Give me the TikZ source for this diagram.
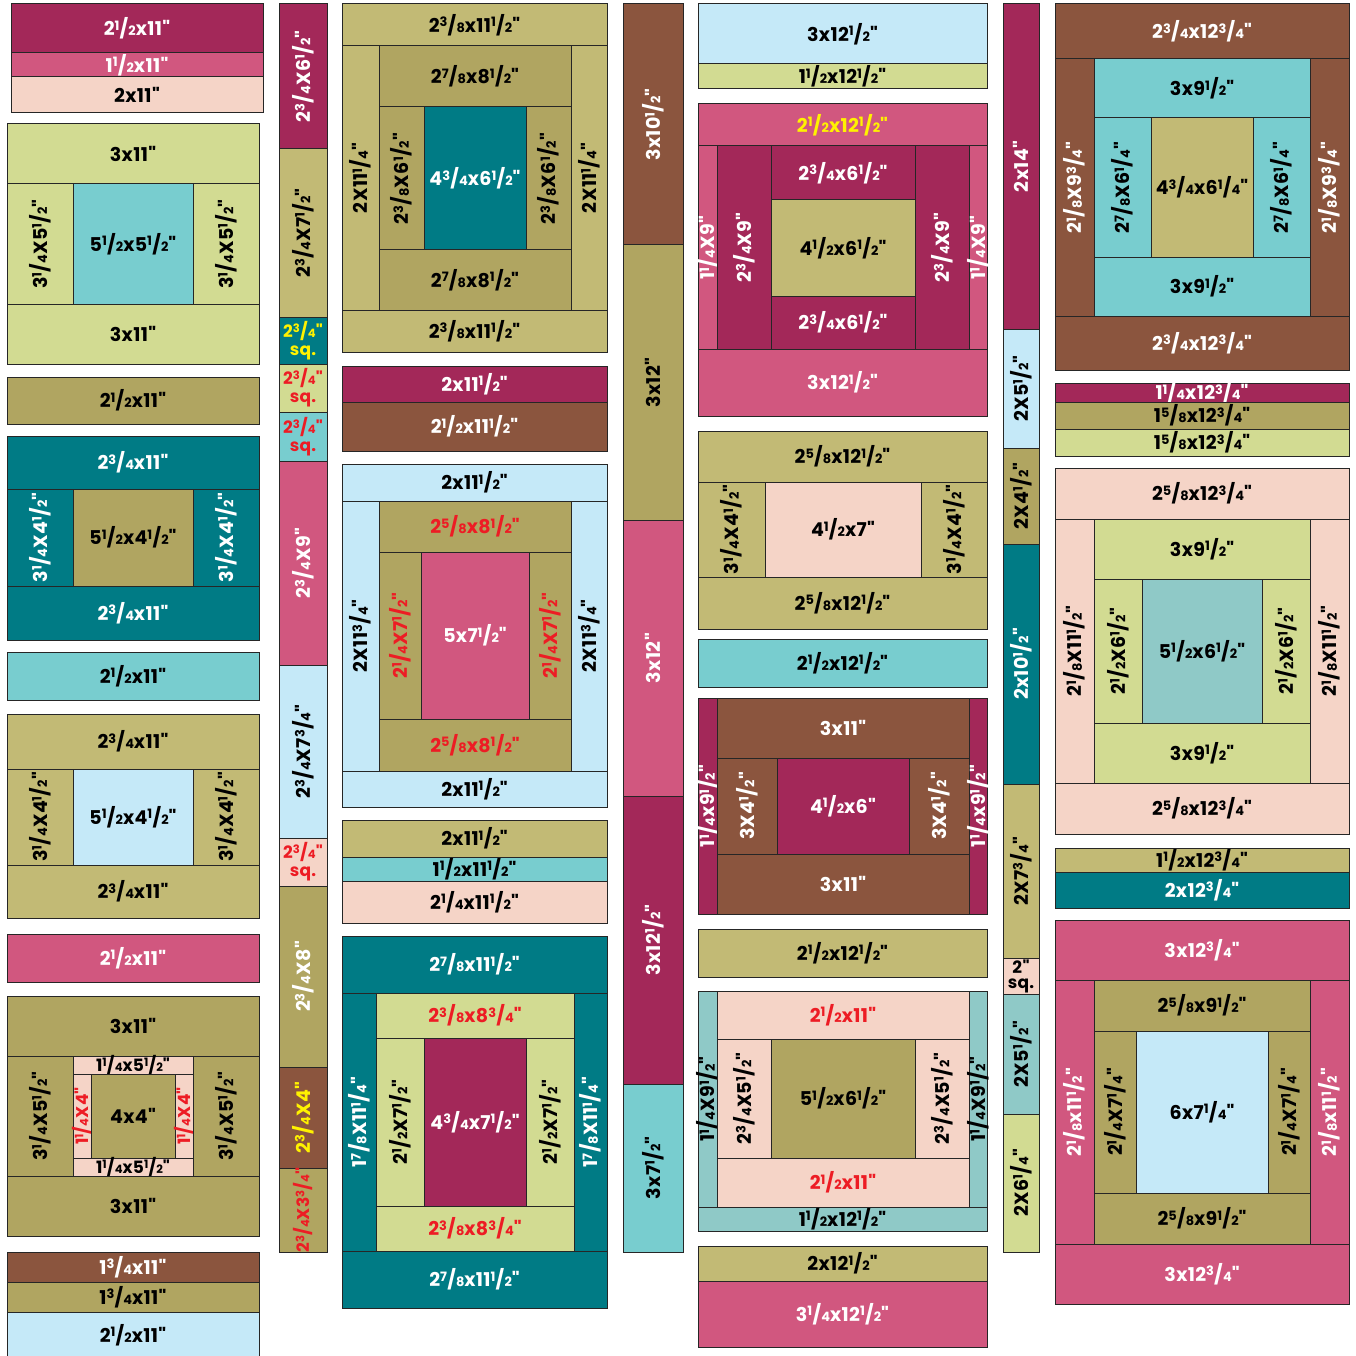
\documentclass[tikz,border=0pt]{standalone}
\usepackage{fontspec}
\usepackage{graphicx}
\usepackage{tikz}
\setmainfont{Poppins}[Ligatures=TeXOff, LetterSpace=2]
\definecolor{plum}{RGB}{163,40,89}
\definecolor{pink}{RGB}{209,87,127}
\definecolor{peach}{RGB}{245,212,199}
\definecolor{lgreen}{RGB}{210,219,146}
\definecolor{aqua}{RGB}{120,205,207}
\definecolor{olive}{RGB}{176,165,97}
\definecolor{khaki}{RGB}{194,186,117}
\definecolor{teal}{RGB}{0,123,133}
\definecolor{lblue}{RGB}{197,233,248}
\definecolor{brown}{RGB}{139,85,62}
\definecolor{seafoam}{RGB}{143,201,199}
\definecolor{cutred}{RGB}{237,28,36}
\definecolor{cutyellow}{RGB}{255,242,0}

% fraction: small numerator, slash, small denominator
\newcommand{\fr}[2]{\raisebox{0.3em}{\scalebox{0.68}{#1}}\kern0.01em/\kern0.01em\scalebox{0.68}{#2}}
\newcounter{pcn}
% piece: [label options] x1 y1 x2 y2 fill label
\newcommand{\pc}[7][]{%
  \stepcounter{pcn}%
  \filldraw[piece, fill=#6] (#2,#3) rectangle (#4,#5);
  \node[lbl,#1] (p\arabic{pcn}) at ({(#2+#4)/2},{(#3+#5)/2}) {#7};}

\tikzset{
  piece/.style={draw=black!85, line width=1pt},
  lbl/.style={font=\fontsize{19}{16}\selectfont\bfseries, inner sep=0pt, align=center},
  sqr/.style={font=\fontsize{17}{18}\selectfont\bfseries},
  small/.style={font=\fontsize{17}{16}\selectfont\bfseries},
  vt/.style={rotate=90},
  tw/.style={text=white},
  tr/.style={text=cutred},
  ty/.style={text=cutyellow}
}

\begin{document}
\begin{tikzpicture}[x=1pt, y=-1pt]
\useasboundingbox (0,0) rectangle (1355,1356);

% --- Column A ---
\pc[tw]{11}{4}{263}{53}{plum}{2\fr12x11"}
\pc[tw]{11}{53}{263}{77}{pink}{1\fr12x11"}
\pc{11}{77}{263}{113}{peach}{2x11"}
% light green block
\pc{7}{124}{259}{184}{lgreen}{3x11"}
\pc[vt]{7}{184}{73}{304}{lgreen}{3\fr14X5\fr12"}
\pc{73}{184}{193}{304}{aqua}{5\fr12x5\fr12"}
\pc[vt]{193}{184}{259}{304}{lgreen}{3\fr14X5\fr12"}
\pc{7}{304}{259}{364}{lgreen}{3x11"}
\pc{7}{377}{259}{424}{olive}{2\fr12x11"}
% teal block
\pc[tw]{7}{436}{259}{489}{teal}{2\fr34x11"}
\pc[tw,vt]{7}{489}{73}{586}{teal}{3\fr14X4\fr12"}
\pc{73}{489}{193}{586}{olive}{5\fr12x4\fr12"}
\pc[tw,vt]{193}{489}{259}{586}{teal}{3\fr14X4\fr12"}
\pc[tw]{7}{586}{259}{640}{teal}{2\fr34x11"}
\pc{7}{652}{259}{700}{aqua}{2\fr12x11"}
% khaki block
\pc{7}{714}{259}{769}{khaki}{2\fr34x11"}
\pc[vt]{7}{769}{73}{865}{khaki}{3\fr14X4\fr12"}
\pc{73}{769}{193}{865}{lblue}{5\fr12x4\fr12"}
\pc[vt]{193}{769}{259}{865}{khaki}{3\fr14X4\fr12"}
\pc{7}{865}{259}{918}{khaki}{2\fr34x11"}
\pc[tw]{7}{934}{259}{982}{pink}{2\fr12x11"}
% olive block
\pc{7}{996}{259}{1056}{olive}{3x11"}
\pc[vt]{7}{1056}{73}{1176}{olive}{3\fr14X5\fr12"}
\pc[small]{73}{1056}{193}{1074}{peach}{1\fr14x5\fr12"}
\pc[tr,vt,small]{73}{1074}{91}{1158}{peach}{1\fr14X4"}
\pc{91}{1074}{175}{1158}{olive}{4x4"}
\pc[tr,vt,small]{175}{1074}{193}{1158}{peach}{1\fr14X4"}
\pc[small]{73}{1158}{193}{1176}{peach}{1\fr14x5\fr12"}
\pc[vt]{193}{1056}{259}{1176}{olive}{3\fr14X5\fr12"}
\pc{7}{1176}{259}{1236}{olive}{3x11"}
\pc[tw]{7}{1252}{259}{1282}{brown}{1\fr34x11"}
\pc{7}{1282}{259}{1312}{olive}{1\fr34x11"}
\pc{7}{1312}{259}{1358}{lblue}{2\fr12x11"}

% --- Column B ---
\pc[tw,vt]{279}{4}{327}{149}{plum}{2\fr34X6\fr12"}
\pc[vt]{279}{149}{327}{317}{khaki}{2\fr34X7\fr12"}
\pc[ty,sqr]{279}{317}{327}{364}{teal}{2\fr34"\\sq.}
\pc[tr,sqr]{279}{364}{327}{412}{lgreen}{2\fr34"\\sq.}
\pc[tr,sqr]{279}{412}{327}{461}{aqua}{2\fr34"\\sq.}
\pc[tw,vt]{279}{461}{327}{665}{pink}{2\fr34X9"}
\pc[vt]{279}{665}{327}{838}{lblue}{2\fr34X7\fr34"}
\pc[tr,sqr]{279}{838}{327}{886}{peach}{2\fr34"\\sq.}
\pc[tw,vt]{279}{886}{327}{1067}{olive}{2\fr34X8"}
\pc[ty,vt]{279}{1067}{327}{1168}{brown}{2\fr34X4"}
\pc[tr,vt,small]{279}{1168}{327}{1252}{olive}{2\fr34X3\fr34"}

% --- Column C ---
\pc{342}{4}{607}{46}{khaki}{2\fr38x11\fr12"}
\pc[vt]{342}{46}{379}{310}{khaki}{2X11\fr14"}
\pc{379}{46}{571}{107}{olive}{2\fr78x8\fr12"}
\pc[vt]{379}{107}{424}{250}{olive}{2\fr38X6\fr12"}
\pc[tw]{424}{107}{526}{250}{teal}{4\fr34x6\fr12"}
\pc[vt]{526}{107}{571}{250}{olive}{2\fr38X6\fr12"}
\pc{379}{250}{571}{310}{olive}{2\fr78x8\fr12"}
\pc[vt]{571}{46}{607}{310}{khaki}{2X11\fr14"}
\pc{342}{310}{607}{352}{khaki}{2\fr38x11\fr12"}
\pc[tw]{342}{366}{607}{402}{plum}{2x11\fr12"}
\pc[tw]{342}{402}{607}{451}{brown}{2\fr12x11\fr12"}
% light blue block
\pc{342}{464}{607}{501}{lblue}{2x11\fr12"}
\pc[vt]{342}{501}{379}{771}{lblue}{2X11\fr34"}
\pc[tr]{379}{501}{571}{552}{olive}{2\fr58x8\fr12"}
\pc[tr,vt]{379}{552}{421}{719}{olive}{2\fr14X7\fr12"}
\pc[tw]{421}{552}{529}{719}{pink}{5x7\fr12"}
\pc[tr,vt]{529}{552}{571}{719}{olive}{2\fr14X7\fr12"}
\pc[tr]{379}{719}{571}{771}{olive}{2\fr58x8\fr12"}
\pc[vt]{571}{501}{607}{771}{lblue}{2X11\fr34"}
\pc{342}{771}{607}{807}{lblue}{2x11\fr12"}
\pc{342}{820}{607}{857}{khaki}{2x11\fr12"}
\pc{342}{857}{607}{881}{aqua}{1\fr12x11\fr12"}
\pc{342}{881}{607}{923}{peach}{2\fr14x11\fr12"}
% teal block
\pc[tw]{342}{936}{607}{993}{teal}{2\fr78x11\fr12"}
\pc[tw,vt]{342}{993}{376}{1251}{teal}{1\fr78X11\fr14"}
\pc[tr]{376}{993}{574}{1038}{lgreen}{2\fr38x8\fr34"}
\pc[vt]{376}{1038}{424}{1206}{lgreen}{2\fr12X7\fr12"}
\pc[tw]{424}{1038}{526}{1206}{plum}{4\fr34x7\fr12"}
\pc[vt]{526}{1038}{574}{1206}{lgreen}{2\fr12X7\fr12"}
\pc[tr]{376}{1206}{574}{1251}{lgreen}{2\fr38x8\fr34"}
\pc[tw,vt]{574}{993}{607}{1251}{teal}{1\fr78X11\fr14"}
\pc[tw]{342}{1251}{607}{1308}{teal}{2\fr78x11\fr12"}

% --- Column D ---
\pc[tw,vt]{623}{4}{683}{245}{brown}{3x10\fr12"}
\pc[vt]{623}{245}{683}{520}{olive}{3x12"}
\pc[tw,vt]{623}{520}{683}{796}{pink}{3x12"}
\pc[tw,vt]{623}{796}{683}{1084}{plum}{3x12\fr12"}
\pc[vt]{623}{1084}{683}{1252}{aqua}{3x7\fr12"}

% --- Column E ---
\pc{698}{4}{987}{64}{lblue}{3x12\fr12"}
\pc{698}{64}{987}{89}{lgreen}{1\fr12x12\fr12"}
% pink block
\pc[ty]{698}{104}{987}{146}{pink}{2\fr12x12\fr12"}
\pc[tw,vt]{698}{146}{717}{349}{pink}{1\fr14X9"}
\pc[tw,vt]{717}{146}{771}{349}{plum}{2\fr34X9"}
\pc[tw]{771}{146}{915}{200}{plum}{2\fr34x6\fr12"}
\pc{771}{200}{915}{296}{khaki}{4\fr12x6\fr12"}
\pc[tw]{771}{296}{915}{349}{plum}{2\fr34x6\fr12"}
\pc[tw,vt]{915}{146}{969}{349}{plum}{2\fr34X9"}
\pc[tw,vt]{969}{146}{987}{349}{pink}{1\fr14X9"}
\pc[tw]{698}{349}{987}{416}{pink}{3x12\fr12"}
% khaki block
\pc{698}{431}{987}{482}{khaki}{2\fr58x12\fr12"}
\pc[vt]{698}{482}{765}{577}{khaki}{3\fr14X4\fr12"}
\pc{765}{482}{921}{577}{peach}{4\fr12x7"}
\pc[vt]{921}{482}{987}{577}{khaki}{3\fr14X4\fr12"}
\pc{698}{577}{987}{629}{khaki}{2\fr58x12\fr12"}
\pc{698}{639}{987}{687}{aqua}{2\fr12x12\fr12"}
% brown block
\pc[tw,vt]{698}{698}{717}{914}{plum}{1\fr14x9\fr12"}
\pc[tw]{717}{698}{969}{758}{brown}{3x11"}
\pc[tw,vt]{717}{758}{777}{854}{brown}{3X4\fr12"}
\pc[tw]{777}{758}{909}{854}{plum}{4\fr12x6"}
\pc[tw,vt]{909}{758}{969}{854}{brown}{3X4\fr12"}
\pc[tw]{717}{854}{969}{914}{brown}{3x11"}
\pc[tw,vt]{969}{698}{987}{914}{plum}{1\fr14x9\fr12"}
\pc{698}{929}{987}{977}{khaki}{2\fr12x12\fr12"}
% seafoam block
\pc[vt]{698}{991}{717}{1207}{seafoam}{1\fr14X9\fr12"}
\pc[tr]{717}{991}{969}{1039}{peach}{2\fr12x11"}
\pc[vt]{717}{1039}{771}{1158}{peach}{2\fr34X5\fr12"}
\pc{771}{1039}{915}{1158}{olive}{5\fr12x6\fr12"}
\pc[vt]{915}{1039}{969}{1158}{peach}{2\fr34X5\fr12"}
\pc[tr]{717}{1158}{969}{1207}{peach}{2\fr12x11"}
\pc[vt]{969}{991}{987}{1207}{seafoam}{1\fr14X9\fr12"}
\pc{698}{1207}{987}{1231}{seafoam}{1\fr12x12\fr12"}
\pc{698}{1246}{987}{1281}{khaki}{2x12\fr12"}
\pc[tw]{698}{1281}{987}{1347}{pink}{3\fr14x12\fr12"}

% --- Column F ---
\pc[tw,vt]{1003}{4}{1039}{329}{plum}{2x14"}
\pc[vt]{1003}{329}{1039}{448}{lblue}{2X5\fr12"}
\pc[vt]{1003}{448}{1039}{544}{olive}{2X4\fr12"}
\pc[tw,vt]{1003}{544}{1039}{784}{teal}{2x10\fr12"}
\pc[vt]{1003}{784}{1039}{958}{khaki}{2X7\fr34"}
\pc[sqr]{1003}{958}{1039}{994}{peach}{2"\\[-3pt]sq.}
\pc[vt]{1003}{994}{1039}{1114}{seafoam}{2X5\fr12"}
\pc[vt]{1003}{1114}{1039}{1252}{lgreen}{2X6\fr14"}

% --- Column G ---
\pc[tw]{1055}{4}{1349}{59}{brown}{2\fr34x12\fr34"}
\pc[tw,vt]{1055}{59}{1094}{316}{brown}{2\fr18X9\fr34"}
\pc{1094}{59}{1310}{118}{aqua}{3x9\fr12"}
\pc[vt]{1094}{118}{1151}{257}{aqua}{2\fr78X6\fr14"}
\pc{1151}{118}{1253}{257}{khaki}{4\fr34x6\fr14"}
\pc[vt]{1253}{118}{1310}{257}{aqua}{2\fr78X6\fr14"}
\pc{1094}{257}{1310}{316}{aqua}{3x9\fr12"}
\pc[tw,vt]{1310}{59}{1349}{316}{brown}{2\fr18X9\fr34"}
\pc[tw]{1055}{316}{1349}{370}{brown}{2\fr34x12\fr34"}
\pc[tw]{1055}{383}{1349}{402}{plum}{1\fr14x12\fr34"}
\pc{1055}{402}{1349}{429}{olive}{1\fr58x12\fr34"}
\pc{1055}{429}{1349}{456}{lgreen}{1\fr58x12\fr34"}
% peach block
\pc{1055}{468}{1349}{519}{peach}{2\fr58x12\fr34"}
\pc[vt]{1055}{519}{1094}{783}{peach}{2\fr18X11\fr12"}
\pc{1094}{519}{1310}{579}{lgreen}{3x9\fr12"}
\pc[vt]{1094}{579}{1142}{723}{lgreen}{2\fr12X6\fr12"}
\pc{1142}{579}{1262}{723}{seafoam}{5\fr12x6\fr12"}
\pc[vt]{1262}{579}{1310}{723}{lgreen}{2\fr12X6\fr12"}
\pc{1094}{723}{1310}{783}{lgreen}{3x9\fr12"}
\pc[vt]{1310}{519}{1349}{783}{peach}{2\fr18X11\fr12"}
\pc{1055}{783}{1349}{834}{peach}{2\fr58x12\fr34"}
\pc{1055}{848}{1349}{872}{khaki}{1\fr12x12\fr34"}
\pc[tw]{1055}{872}{1349}{908}{teal}{2x12\fr34"}
% pink block
\pc[tw]{1055}{920}{1349}{980}{pink}{3x12\fr34"}
\pc[tw,vt]{1055}{980}{1094}{1244}{pink}{2\fr18x11\fr12"}
\pc{1094}{980}{1310}{1031}{olive}{2\fr58x9\fr12"}
\pc[vt]{1094}{1031}{1136}{1193}{olive}{2\fr14X7\fr14"}
\pc{1136}{1031}{1268}{1193}{lblue}{6x7\fr14"}
\pc[vt]{1268}{1031}{1310}{1193}{olive}{2\fr14X7\fr14"}
\pc{1094}{1193}{1310}{1244}{olive}{2\fr58x9\fr12"}
\pc[tw,vt]{1310}{980}{1349}{1244}{pink}{2\fr18x11\fr12"}
\pc[tw]{1055}{1244}{1349}{1304}{pink}{3x12\fr34"}

\end{tikzpicture}
\end{document}
